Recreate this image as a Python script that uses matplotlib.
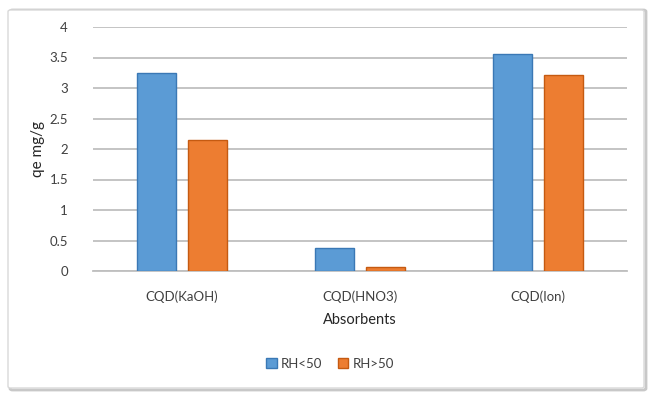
import numpy as np
import matplotlib
matplotlib.use('Agg')
from matplotlib import pyplot as plt
from matplotlib.patches import FancyBboxPatch

# data
absorbents = ['CQD(KaOH)', 'CQD(HNO3)', 'CQD(Ion)']
rh_low = [3.25, 0.38, 3.56]
rh_high = [2.15, 0.07, 3.21]
series_names = ['RH<50', 'RH>50']

plt.rcParams['font.family'] = ['Lato', 'DejaVu Sans']

fig = plt.figure(figsize=(6.54, 4.0), dpi=100)

# outer chart frame with a soft shadow
shadow = FancyBboxPatch((10 / 654, 10 / 400), 636 / 654, 380 / 400,
                        boxstyle='round,pad=0,rounding_size=0.004',
                        transform=fig.transFigure, fc='none', ec='#c8c8c8',
                        lw=2.0, zorder=-2)
frame = FancyBboxPatch((8 / 654, 12 / 400), 636 / 654, 378 / 400,
                       boxstyle='round,pad=0,rounding_size=0.004',
                       transform=fig.transFigure, fc='white', ec='#d9d9d9',
                       lw=1.0, zorder=-1)
fig.patches.extend([shadow, frame])

ax = fig.add_axes([93 / 654, 1 - 271 / 400, 534 / 654, 244 / 400])
ax.set_zorder(2)
ax.set_facecolor('none')

x = np.arange(len(absorbents))
w = 0.215
off = 0.143
ax.bar(x - off, rh_low, w, color='#5b9bd5', edgecolor='#3a78b5', lw=1.0,
       label=series_names[0], zorder=3)
ax.bar(x + off, rh_high, w, color='#ed7d31', edgecolor='#c55a11', lw=1.0,
       label=series_names[1], zorder=3)

ax.set_xlim(-0.5, 2.5)
ax.set_ylim(0, 4)
ax.set_yticks(np.arange(0, 4.01, 0.5))
ax.set_yticklabels(['0', '0.5', '1', '1.5', '2', '2.5', '3', '3.5', '4'])
ax.set_xticks(x)
ax.set_xticklabels(absorbents)
ax.grid(axis='y', color='#bfbfbf', lw=1.3, zorder=0)
for s in ['top', 'right', 'left']:
    ax.spines[s].set_visible(False)
ax.spines['bottom'].set_color('#bfbfbf')
ax.spines['bottom'].set_linewidth(1.3)
ax.tick_params(axis='both', length=0, colors='#404040', labelsize=9.5)
ax.tick_params(axis='x', pad=14)
ax.tick_params(axis='y', pad=18)

ax.set_xlabel('Absorbents', fontsize=10.5, color='#262626', labelpad=7)
ax.set_ylabel('qe mg/g', fontsize=11, color='#262626', labelpad=3)

fig.legend(loc='center', bbox_to_anchor=(330 / 654, 1 - 364 / 400), ncol=2,
           frameon=False, fontsize=9.5, handlelength=0.8, handleheight=0.8,
           handletextpad=0.3, columnspacing=1.2, labelcolor='#404040')

fig.savefig('out.png', dpi=100)
